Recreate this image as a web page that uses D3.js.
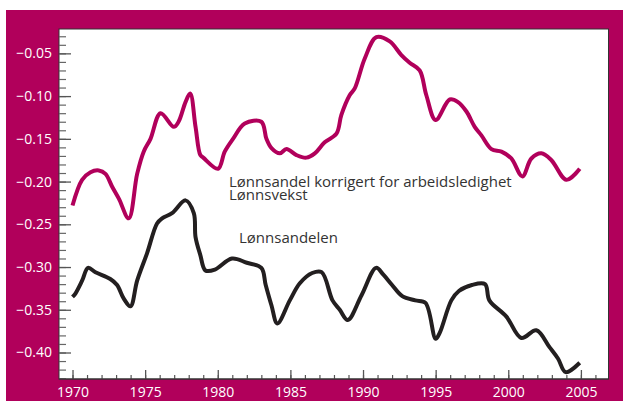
<!DOCTYPE html>
<html>
<head>
<meta charset="utf-8">
<script src="https://cdn.jsdelivr.net/npm/d3@7"></script>
<style>
  body { margin: 0; background: #fff; }
  svg { display: block; font-family: "Open Sans", sans-serif; }
</style>
</head>
<body>
<script>
// Lønnsandel korrigert for arbeidsledighet (magenta)
const korrYears = [1970.0, 1970.66, 1971.24, 1971.81, 1972.27, 1972.73, 1973.19, 1973.87, 1974.45, 1974.9,
  1975.37, 1976.06, 1976.97, 1977.3, 1977.78, 1978.1, 1978.47, 1978.8, 1979.0, 1980.02,
  1980.48, 1981.05, 1981.86, 1983.0, 1983.35, 1983.7, 1984.27, 1984.73, 1985.42, 1986.1,
  1986.68, 1987.36, 1988.17, 1988.51, 1989.08, 1989.43, 1990.12, 1990.92, 1991.84, 1992.64,
  1993.21, 1993.9, 1994.36, 1995.0, 1995.97, 1996.54, 1997.12, 1997.69, 1998.15, 1998.84,
  1999.53, 2000.21, 2000.97, 2001.59, 2002.28, 2002.97, 2004.0, 2004.92];
const korrValues = [-0.228, -0.198, -0.189, -0.187, -0.191, -0.206, -0.220, -0.243, -0.191, -0.165,
  -0.150, -0.120, -0.136, -0.130, -0.107, -0.097, -0.136, -0.169, -0.172, -0.185,
  -0.165, -0.150, -0.132, -0.130, -0.150, -0.161, -0.167, -0.162, -0.169, -0.172,
  -0.167, -0.154, -0.144, -0.122, -0.099, -0.091, -0.056, -0.031, -0.036, -0.052,
  -0.061, -0.070, -0.099, -0.128, -0.104, -0.107, -0.118, -0.136, -0.146, -0.162,
  -0.165, -0.173, -0.194, -0.173, -0.167, -0.175, -0.198, -0.185];

// Lønnsandelen (svart)
const andelYears = [1970.0, 1970.2, 1970.66, 1971.07, 1971.58, 1972.6, 1973.07, 1973.53, 1973.99, 1974.45,
  1975.13, 1975.82, 1976.17, 1976.85, 1977.78, 1978.35, 1978.47, 1978.8, 1979.15, 1979.8,
  1980.98, 1982.0, 1983.0, 1983.3, 1983.7, 1984.1, 1984.96, 1985.65, 1986.5, 1987.15,
  1987.9, 1988.4, 1988.95, 1989.9, 1990.9, 1991.4, 1992.0, 1992.7, 1993.6, 1994.3,
  1995.0, 1995.28, 1996.08, 1996.6, 1997.5, 1998.4, 1998.7, 1999.87, 2000.9, 2001.93,
  2002.85, 2003.42, 2003.95, 2004.92];
const andelValues = [-0.335, -0.331, -0.316, -0.301, -0.306, -0.314, -0.321, -0.337, -0.346, -0.316,
  -0.284, -0.249, -0.243, -0.237, -0.222, -0.237, -0.265, -0.286, -0.304, -0.303,
  -0.290, -0.295, -0.301, -0.321, -0.345, -0.366, -0.339, -0.319, -0.307, -0.306,
  -0.339, -0.350, -0.362, -0.333, -0.301, -0.309, -0.321, -0.334, -0.339, -0.342,
  -0.384, -0.377, -0.339, -0.328, -0.321, -0.320, -0.339, -0.358, -0.383, -0.374,
  -0.394, -0.407, -0.423, -0.412];

const yTickValues = [-0.05, -0.10, -0.15, -0.20, -0.25, -0.30, -0.35, -0.40];
const xTickValues = [1970, 1975, 1980, 1985, 1990, 1995, 2000, 2005];

const labels = [
  { text: "Lønnsandel korrigert for arbeidsledighet", x: 229, y: 187 },
  { text: "Lønnsvekst", x: 229, y: 200 },
  { text: "Lønnsandelen", x: 239, y: 243 }
];

const width = 623, height = 401;
const magenta = "#b1005b";
const plot = { left: 59, right: 608.5, top: 29, bottom: 379 };

const svg = d3.select("body").append("svg")
    .attr("width", width)
    .attr("height", height);

// magenta ramme
svg.append("rect")
    .attr("x", 6).attr("y", 10)
    .attr("width", width - 6).attr("height", height - 10)
    .attr("fill", magenta);

// hvit plotflate
svg.append("rect")
    .attr("x", plot.left).attr("y", plot.top)
    .attr("width", plot.right - plot.left).attr("height", plot.bottom - plot.top)
    .attr("fill", "#fff")
    .attr("stroke", "#333")
    .attr("stroke-width", 1);

const x = d3.scaleLinear()
    .domain([1969.07, 2006.9])
    .range([plot.left, plot.right]);

const y = d3.scaleLinear()
    .domain([-0.431, -0.0215])
    .range([plot.bottom, plot.top]);

// små y-ticks (hver 0.01)
svg.append("g")
    .attr("transform", `translate(${plot.left},0)`)
    .call(d3.axisLeft(y)
        .tickValues(d3.range(-43, -2).map(d => d / 100))
        .tickSize(-7)
        .tickFormat(""))
    .call(g => g.select(".domain").remove())
    .call(g => g.selectAll(".tick line").attr("stroke", "#666").attr("stroke-width", 1.2));

// store y-ticks med etiketter
svg.append("g")
    .attr("transform", `translate(${plot.left},0)`)
    .call(d3.axisLeft(y)
        .tickValues(yTickValues)
        .tickSize(-12)
        .tickPadding(7)
        .tickFormat(d3.format(".2f")))
    .call(g => g.select(".domain").remove())
    .call(g => g.selectAll(".tick line").attr("stroke", "#555").attr("stroke-width", 1.3))
    .call(g => g.selectAll(".tick text")
        .attr("fill", "#fff")
        .attr("font-size", 14)
        .attr("font-family", "Open Sans, sans-serif"));

// små x-ticks (hvert år)
svg.append("g")
    .attr("transform", `translate(0,${plot.bottom})`)
    .call(d3.axisBottom(x)
        .tickValues(d3.range(1970, 2007))
        .tickSize(-4)
        .tickFormat(""))
    .call(g => g.select(".domain").remove())
    .call(g => g.selectAll(".tick line").attr("stroke", "#555").attr("stroke-width", 1.2));

// store x-ticks med etiketter
svg.append("g")
    .attr("transform", `translate(0,${plot.bottom})`)
    .call(d3.axisBottom(x)
        .tickValues(xTickValues)
        .tickSize(-9)
        .tickPadding(8)
        .tickFormat(d3.format("d")))
    .call(g => g.select(".domain").remove())
    .call(g => g.selectAll(".tick line").attr("stroke", "#555").attr("stroke-width", 1.3))
    .call(g => g.selectAll(".tick text")
        .attr("fill", "#fff")
        .attr("font-size", 14)
        .attr("font-family", "Open Sans, sans-serif"));

// bunnlinje
svg.append("line")
    .attr("x1", plot.left).attr("x2", plot.right)
    .attr("y1", plot.bottom).attr("y2", plot.bottom)
    .attr("stroke", "#333").attr("stroke-width", 1.2);

const line = d3.line()
    .x(d => x(d[0]))
    .y(d => y(d[1]))
    .curve(d3.curveCatmullRom.alpha(0.5));

svg.append("path")
    .datum(d3.zip(korrYears, korrValues))
    .attr("fill", "none")
    .attr("stroke", magenta)
    .attr("stroke-width", 4)
    .attr("stroke-linejoin", "round")
    .attr("d", line);

svg.append("path")
    .datum(d3.zip(andelYears, andelValues))
    .attr("fill", "none")
    .attr("stroke", "#231f20")
    .attr("stroke-width", 4)
    .attr("stroke-linejoin", "round")
    .attr("d", line);

// tekstetiketter
svg.append("g")
  .selectAll("text")
  .data(labels)
  .join("text")
    .attr("x", d => d.x)
    .attr("y", d => d.y)
    .attr("fill", "#333")
    .attr("font-size", 15)
    .text(d => d.text);
</script>
</body>
</html>
